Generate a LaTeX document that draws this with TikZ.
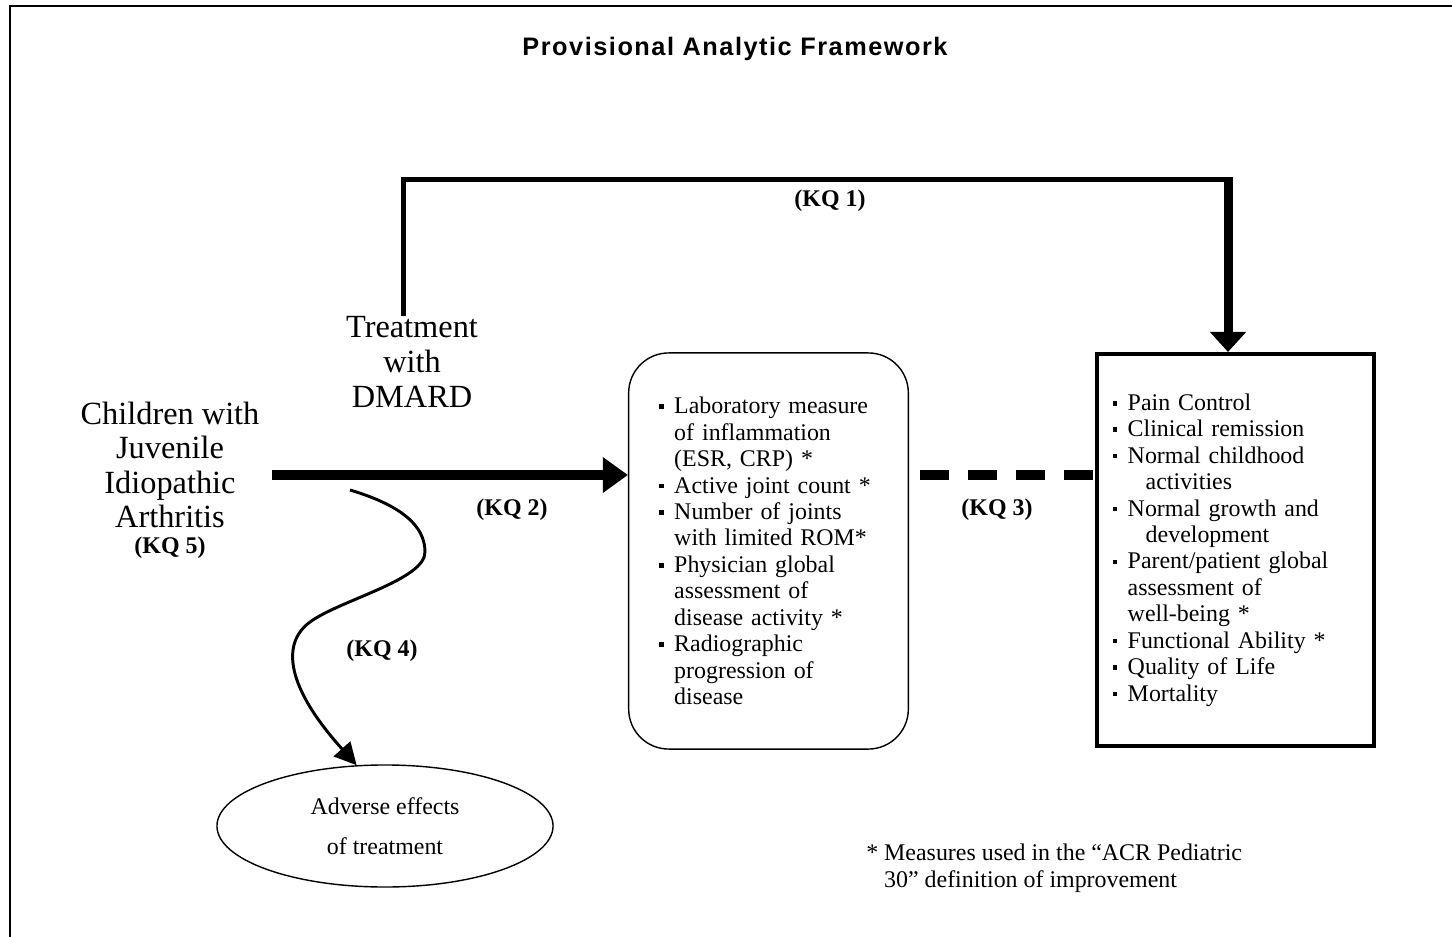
\documentclass[tikz,border=0pt]{standalone}
\usepackage{fontspec}
\setmainfont{Liberation Serif}
\newfontfamily\titlefont[LetterSpace=6]{Liberation Sans}
\usepackage{tikz}
\usetikzlibrary{positioning,arrows.meta,shapes.geometric,calc}
\newcommand{\sqb}{\makebox[10.5pt][l]{\rule[0.2em]{3.2pt}{3.2pt}}}
\newcommand{\ind}{\makebox[10.5pt]{}}
\newcommand{\indd}{\makebox[23.3pt]{}}
\tikzset{
  frm/.style ={line width=1.4pt},
  ttl/.style ={font=\titlefont\bfseries\fontsize{18}{21}\selectfont, inner sep=1pt},
  lab/.style ={font=\fontsize{23}{24.6}\selectfont, align=center, inner sep=2pt},
  kq/.style  ={font=\fontsize{17}{20}\selectfont\bfseries, inner sep=1pt},
  lst/.style ={font=\fontsize{17}{18.8}\selectfont, align=left, inner sep=0pt},
  mbox/.style={lst, draw, line width=1pt, rounded corners=1cm, text width=5.45cm, minimum width=6.99cm, minimum height=9.9cm},
  obox/.style={lst, draw, line width=2.8pt, text width=6.125cm, minimum width=6.925cm, minimum height=9.8cm},
  oval/.style={ellipse, draw, line width=1pt, minimum width=8.4cm, minimum height=3.05cm, align=center, font=\fontsize{17}{28.4}\selectfont},
  fnote/.style={font=\fontsize{17}{19.2}\selectfont, align=left, inner sep=0pt},
  kqline/.style={line width=3.56pt, line cap=rect},
  kqdown/.style={line width=6.4pt, -{Triangle[length=0.5cm, width=0.875cm]}},
  bigedge/.style={line width=7.1pt, -{Triangle[length=0.625cm, width=0.85cm]}},
  dashlink/.style={line width=7.1pt, dash pattern=on 20.6pt off 13.5pt, shorten <=7.8pt},
  harmedge/.style={line width=2.1pt, -{Triangle[length=0.55cm, width=0.55cm]}},
}
\begin{document}
\begin{tikzpicture}[x=0.025cm, y=-0.025cm]
  \useasboundingbox (0,0) rectangle (1452,937);
  % page frame (cut at right and bottom)
  \draw[frm] (10,937) -- (10,6) -- (1452,6);
  \node[ttl] (title) at (735,49) {Provisional Analytic Framework};

  \node[lab] (treat) at (412,362) {Treatment\\with\\DMARD};
  \node[lab] (child) at (170,465) {Children with\\Juvenile\\Idiopathic\\Arthritis};
  \node[kq]  (kq5) at (170,548) {(KQ 5)};

  \node[mbox] (mid) at (768.5,551) {%
    \sqb Laboratory measure\\
    \ind of inflammation\\
    \ind (ESR, CRP) *\\
    \sqb Active joint count *\\
    \sqb Number of joints\\
    \ind with limited ROM*\\
    \sqb Physician global\\
    \ind assessment of\\
    \ind disease activity *\\
    \sqb Radiographic\\
    \ind progression of\\
    \ind disease};

  \node[obox] (out) at (1235.5,550) {%
    \sqb Pain Control\\
    \sqb Clinical remission\\
    \sqb Normal childhood\\
    \indd activities\\
    \sqb Normal growth and\\
    \indd development\\
    \sqb Parent/patient global\\
    \ind assessment of\\
    \ind well-being *\\
    \sqb Functional Ability *\\
    \sqb Quality of Life\\
    \sqb Mortality};

  \node[oval] (adv) at (385,826) {Adverse effects\\of treatment};
  \node[fnote, anchor=west] (fn) at (866,868) {* Measures used in the “ACR Pediatric\\
    \phantom{* }30” definition of improvement};

  \coordinate (kq1a) at (403,180);
  \coordinate (kq1b) at (1228,180);
  \coordinate (kq2s) at (272,475);
  \coordinate (w0)   at (350,490);

  % key questions
  \draw[kqline] (treat.north -| kq1a) -- (kq1a) -- (kq1b);
  \draw[kqdown] (kq1b) ++(0,-2.5) -- (kq1b |- out.north);
  \draw[bigedge] (kq2s) -- (kq2s -| mid.west);
  \draw[dashlink] (mid.east |- kq2s) -- (out.west |- kq2s);
  \draw[harmedge] (w0) .. controls (400,505) and (425,525) .. (425,552)
    .. controls (425,580) and (340,600) .. (310,622)
    .. controls (285,640) and (280,680) .. (adv.115);

  \node[kq] (kq1) at (830,201) {(KQ 1)};
  \node[kq] (kq2) at (512,510) {(KQ 2)};
  \node[kq] (kq3) at (997,510) {(KQ 3)};
  \node[kq] (kq4) at (382,651) {(KQ 4)};
\end{tikzpicture}
\end{document}
